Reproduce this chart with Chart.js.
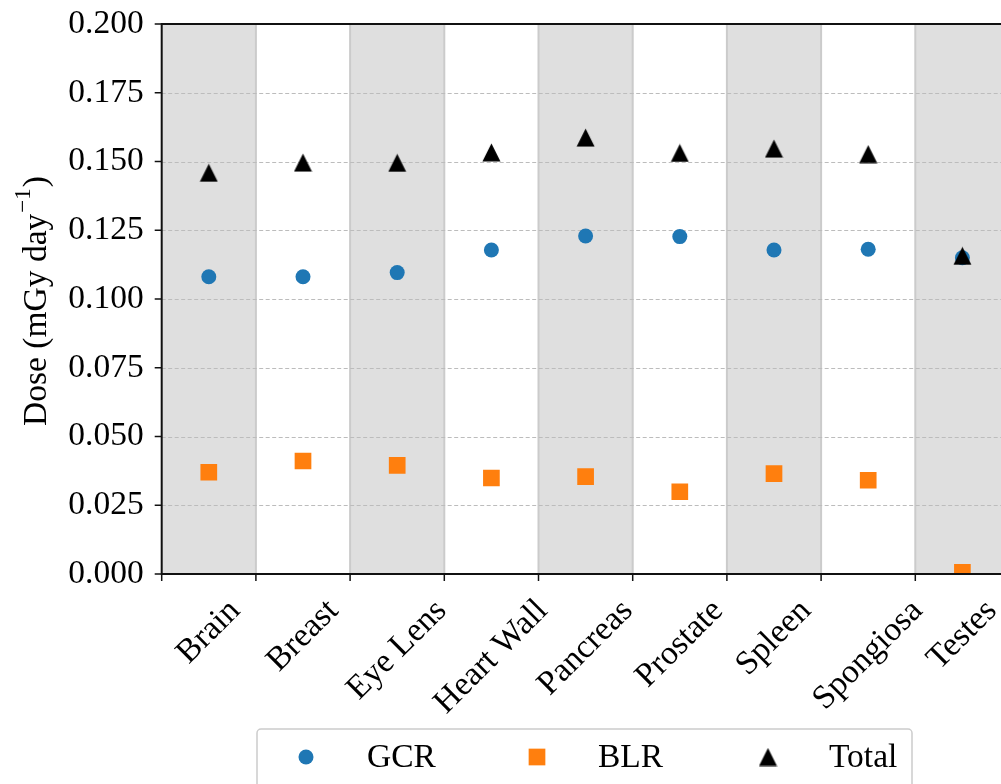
<!DOCTYPE html>
<html>
<head>
<meta charset="utf-8">
<script src="https://cdn.jsdelivr.net/npm/chart.js@4.4.1/dist/chart.umd.min.js"></script>
<style>
  html, body { margin: 0; padding: 0; background: #fff; overflow: hidden; }
  #wrap { position: relative; width: 1010px; height: 784px; }
</style>
</head>
<body>
<div id="wrap"><canvas id="doseChart" width="1010" height="784"></canvas></div>
<script>
const organs = ['Brain', 'Breast', 'Eye Lens', 'Heart Wall', 'Pancreas', 'Prostate', 'Spleen', 'Spongiosa', 'Testes'];
const gcrDose = [0.1081, 0.1081, 0.1096, 0.1178, 0.1229, 0.1227, 0.1178, 0.1181, 0.1150];
const blrDose = [0.0370, 0.0411, 0.0395, 0.0349, 0.0354, 0.0299, 0.0365, 0.0341, 0.0006];
const totalDose = [0.1459, 0.1496, 0.1495, 0.1533, 0.1587, 0.1531, 0.1547, 0.1527, 0.1157];
const yTicks = [0, 0.025, 0.05, 0.075, 0.1, 0.125, 0.15, 0.175, 0.2];
const yTitle = 'Dose (mGy day';
const yTitleSup = '\u22121';
const legendLabels = ['GCR', 'BLR', 'Total'];

const FONT = '"Liberation Serif", "Times New Roman", serif';
const FS = 33.5;
const colors = { gcr: '#1f77b4', blr: '#ff7f0e', total: '#000000' };

// matplotlib-like '^' marker, centred on its bounding box
const tri = document.createElement('canvas');
tri.width = 19; tri.height = 19;
{
  const t = tri.getContext('2d');
  t.fillStyle = colors.total;
  t.beginPath();
  t.moveTo(9.5, 0.5); t.lineTo(18.5, 18.5); t.lineTo(0.5, 18.5);
  t.closePath(); t.fill();
}

const toPoints = arr => arr.map((v, i) => ({ x: i, y: v }));

const decor = {
  id: 'decor',
  beforeDatasetsDraw(chart) {
    const { ctx, chartArea: a, scales: { x, y } } = chart;
    ctx.save();
    // shaded bands on every other organ
    ctx.fillStyle = '#dfdfdf';
    organs.forEach((_, i) => {
      if (i % 2) return;
      const l = x.getPixelForValue(i - 0.5), r = x.getPixelForValue(i + 0.5);
      ctx.fillRect(l, a.top, r - l, a.bottom - a.top);
    });
    // solid lines on band edges
    ctx.strokeStyle = '#cbcbcb';
    ctx.lineWidth = 2;
    for (let i = 0; i < organs.length; i++) {
      const px = x.getPixelForValue(i + 0.5);
      ctx.beginPath(); ctx.moveTo(px, a.top); ctx.lineTo(px, a.bottom); ctx.stroke();
    }
    // dashed horizontal grid
    ctx.strokeStyle = '#bcbcbc';
    ctx.lineWidth = 1;
    ctx.setLineDash([4, 2.5]);
    yTicks.slice(1, -1).forEach(v => {
      const py = Math.round(y.getPixelForValue(v)) + 0.5;
      ctx.beginPath(); ctx.moveTo(a.left, py); ctx.lineTo(a.right, py); ctx.stroke();
    });
    ctx.restore();
  },
  afterDatasetsDraw(chart) {
    const { ctx, chartArea: a, scales: { x, y } } = chart;
    ctx.save();
    ctx.strokeStyle = '#111';
    ctx.lineWidth = 2;
    // spines
    ctx.beginPath();
    ctx.moveTo(chart.width, a.top); ctx.lineTo(a.left, a.top);
    ctx.lineTo(a.left, a.bottom); ctx.lineTo(chart.width, a.bottom);
    ctx.stroke();
    // tick marks
    ctx.lineWidth = 1.5;
    yTicks.forEach(v => {
      const py = y.getPixelForValue(v);
      ctx.beginPath(); ctx.moveTo(a.left - 7, py); ctx.lineTo(a.left, py); ctx.stroke();
    });
    for (let i = 0; i <= organs.length; i++) {
      const px = x.getPixelForValue(i - 0.5);
      ctx.beginPath(); ctx.moveTo(px, a.bottom); ctx.lineTo(px, a.bottom + 7); ctx.stroke();
    }

    // rotated organ names, bbox centred under each organ
    ctx.fillStyle = '#000';
    ctx.font = FS + 'px ' + FONT;
    organs.forEach((name, i) => {
      const cx = x.getPixelForValue(i);
      const w = ctx.measureText(name).width;
      const side = (w + 22) / Math.SQRT2;
      ctx.save();
      ctx.translate(cx, a.bottom + 24 + side / 2);
      ctx.rotate(-Math.PI / 4);
      ctx.textAlign = 'center';
      ctx.textBaseline = 'middle';
      ctx.fillText(name, 0, 0);
      ctx.restore();
    });

    // y-axis title with superscript
    ctx.save();
    ctx.translate(46, 302);
    ctx.rotate(-Math.PI / 2);
    ctx.textBaseline = 'alphabetic';
    ctx.textAlign = 'left';
    ctx.font = FS + 'px ' + FONT;
    const w1 = ctx.measureText(yTitle).width;
    const w3 = ctx.measureText(')').width;
    ctx.font = '23px ' + FONT;
    const w2 = ctx.measureText(yTitleSup).width;
    const start = -(w1 + w2 + w3) / 2;
    ctx.font = FS + 'px ' + FONT;
    ctx.fillText(yTitle, start, 0);
    ctx.fillText(')', start + w1 + w2 + 2, 0);
    ctx.font = '23px ' + FONT;
    ctx.fillText(yTitleSup, start + w1 + 1, -16);
    ctx.restore();

    // legend box below the plot
    ctx.strokeStyle = '#cccccc';
    ctx.lineWidth = 1.5;
    ctx.fillStyle = 'rgba(255,255,255,0.8)';
    ctx.beginPath();
    ctx.roundRect(257, 729, 655, 90, 4);
    ctx.fill(); ctx.stroke();
    const mx = [306, 537, 768], my = 757;
    ctx.fillStyle = colors.gcr;
    ctx.beginPath(); ctx.arc(mx[0], my, 7.5, 0, Math.PI * 2); ctx.fill();
    ctx.fillStyle = colors.blr;
    ctx.fillRect(mx[1] - 8.35, my - 8.35, 16.7, 16.7);
    ctx.drawImage(tri, mx[2] - 9.5, my - 9.5);
    ctx.fillStyle = '#000';
    ctx.font = FS + 'px ' + FONT;
    ctx.textBaseline = 'alphabetic';
    legendLabels.forEach((t, i) => ctx.fillText(t, mx[i] + 61, 767));
    ctx.restore();
  }
};

new Chart(document.getElementById('doseChart'), {
  type: 'scatter',
  data: {
    datasets: [
      { label: legendLabels[0], data: toPoints(gcrDose), pointStyle: 'circle', pointRadius: 7.5,
        backgroundColor: colors.gcr, borderColor: colors.gcr, borderWidth: 0, order: 3, clip: 0 },
      { label: legendLabels[1], data: toPoints(blrDose), pointStyle: 'rect', pointRadius: 11.8,
        backgroundColor: colors.blr, borderColor: colors.blr, borderWidth: 0, order: 2, clip: 0 },
      { label: legendLabels[2], data: toPoints(totalDose), pointStyle: tri, pointRadius: 9,
        backgroundColor: colors.total, borderColor: colors.total, borderWidth: 0, order: 1, clip: 0 }
    ]
  },
  options: {
    responsive: false,
    animation: false,
    devicePixelRatio: 1,
    layout: { autoPadding: false, padding: { top: 24, right: 0.5, left: 0, bottom: 0 } },
    plugins: { legend: { display: false }, tooltip: { enabled: false } },
    scales: {
      x: {
        type: 'linear', min: -0.5, max: 8.5,
        grid: { display: false, drawTicks: false }, border: { display: false },
        ticks: { display: false },
        afterFit: s => { s.height = 210; s.paddingLeft = 0; s.paddingRight = 0; }
      },
      y: {
        min: 0, max: 0.2,
        afterBuildTicks: s => { s.ticks = yTicks.map(v => ({ value: v })); },
        ticks: {
          callback: v => v.toFixed(3),
          font: { family: FONT, size: FS },
          color: '#000', padding: 18, autoSkip: false
        },
        grid: { display: false, drawTicks: false }, border: { display: false },
        afterFit: s => { s.width = 161.7; s.paddingTop = 0; s.paddingBottom = 0; }
      }
    }
  },
  plugins: [decor]
});
</script>
</body>
</html>
